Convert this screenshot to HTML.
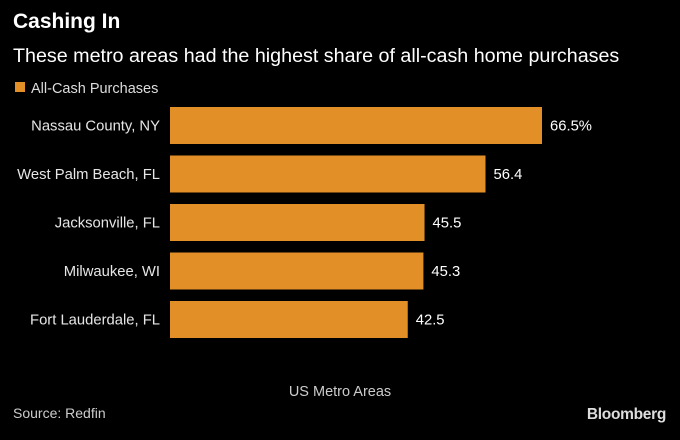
<!DOCTYPE html>
<html><head><meta charset="utf-8">
<style>
html,body{margin:0;padding:0;background:#000;}
body{width:680px;height:435px;overflow:hidden;font-family:"Liberation Sans",sans-serif;}
svg text{font-family:"Liberation Sans",sans-serif;}
</style></head>
<body>
<svg id="chart" width="680" height="435" viewBox="0 0 680 435">
<rect width="680" height="435" fill="#000"/>
<text x="13" y="28" fill="#fff" font-size="21" font-weight="bold">Cashing In</text>
<text x="13" y="62" fill="#fff" font-size="19.7">These metro areas had the highest share of all-cash home purchases</text>
<g>
<rect x="15" y="82" width="10" height="10" fill="#e28f27"/>
<text x="31" y="93" fill="#ddd" font-size="14.5">All-Cash Purchases</text>
</g>
<g id="bars"></g>
<text x="340" y="396" fill="#ccc" font-size="14.5" text-anchor="middle">US Metro Areas</text>
<text x="13" y="418" fill="#ccc" font-size="14">Source: Redfin</text>
<text x="666" y="419" fill="#ddd" font-size="15.5" font-weight="bold" text-anchor="end" letter-spacing="-0.3">Bloomberg</text>
</svg>
<script>
const categories = ["Nassau County, NY","West Palm Beach, FL","Jacksonville, FL","Milwaukee, WI","Fort Lauderdale, FL"];
const values = [66.5,56.4,45.5,45.3,42.5];
const valueLabels = ["66.5%","56.4","45.5","45.3","42.5"];
const x0 = 170, pxPerUnit = 372/66.5;
const xScale = v => x0 + v*pxPerUnit;
const bandTop = 107, band = 48.5, barH = 37;
const yScale = i => bandTop + i*band;
const g = document.getElementById('bars');
const NS = "http://www.w3.org/2000/svg";
categories.forEach((c,i)=>{
  const y = yScale(i);
  const r = document.createElementNS(NS,'rect');
  
  
  r.setAttribute('x',x0); r.setAttribute('y',y);
  r.setAttribute('width',xScale(values[i])-x0); r.setAttribute('height',barH);
  r.setAttribute('fill','#e28f27');
  g.appendChild(r);
  const l = document.createElementNS(NS,'text');
  
  
  l.setAttribute('x',160); l.setAttribute('y',y+barH/2+5);
  l.setAttribute('text-anchor','end'); l.setAttribute('fill','#e6e6e6'); l.setAttribute('font-size','14.8');
  l.textContent = c; g.appendChild(l);
  const v = document.createElementNS(NS,'text');
  
  
  v.setAttribute('x',xScale(values[i])+8); v.setAttribute('y',y+barH/2+5);
  v.setAttribute('fill','#fff'); v.setAttribute('font-size','14.8');
  v.textContent = valueLabels[i]; g.appendChild(v);
});
</script>
</body></html>
